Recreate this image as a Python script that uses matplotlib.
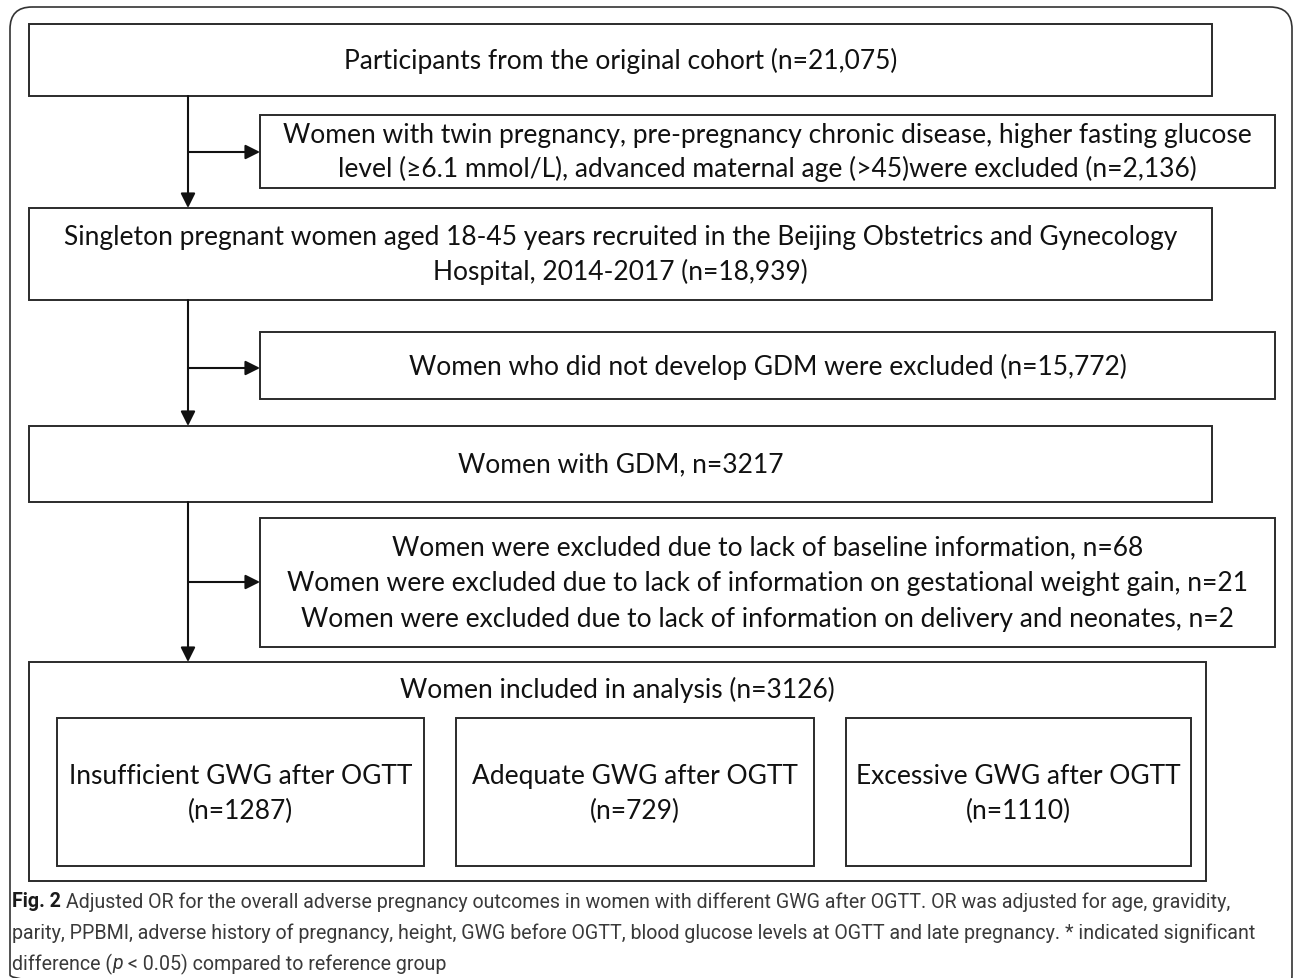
import matplotlib
matplotlib.use("Agg")
import matplotlib.pyplot as plt
from matplotlib.patches import Rectangle, FancyBboxPatch

#%% flowchart content

n_cohort = "21,075"
n_excl_1 = "2,136"
n_singleton = "18,939"
n_no_gdm = "15,772"
n_gdm = 3217
n_missing = [68, 21, 2]
n_included = 3126
group_names = ["Insufficient", "Adequate", "Excessive"]
group_n = [1287, 729, 1110]

main_texts = [
    "Participants from the original cohort (n=%s)" % n_cohort,
    "Singleton pregnant women aged 18-45 years recruited in the Beijing Obstetrics and Gynecology\n"
    "Hospital, 2014-2017 (n=%s)" % n_singleton,
    "Women with GDM, n=%d" % n_gdm,
]
side_texts = [
    "Women with twin pregnancy, pre-pregnancy chronic disease, higher fasting glucose\n"
    "level (\u22656.1 mmol/L), advanced maternal age (>45)were excluded (n=%s)" % n_excl_1,
    "Women who did not develop GDM were excluded (n=%s)" % n_no_gdm,
    "Women were excluded due to lack of baseline information, n=%d\n"
    "Women were excluded due to lack of information on gestational weight gain, n=%d\n"
    "Women were excluded due to lack of information on delivery and neonates, n=%d" % tuple(n_missing),
]
final_text = "Women included in analysis (n=%d)" % n_included

caption_bold = "Fig. 2"
caption_1 = (" Adjusted OR for the overall adverse pregnancy outcomes in women with different GWG after OGTT. "
             "OR was adjusted for age, gravidity,")
caption_2 = ("parity, PPBMI, adverse history of pregnancy, height, GWG before OGTT, blood glucose levels at OGTT "
             "and late pregnancy. * indicated significant")
caption_3 = ["difference (", "p", " < 0.05) compared to reference group"]

#%% layout (pixel coords, y down)

W, H = 1293, 979
fig = plt.figure(figsize=(W / 100, H / 100), dpi=100)
ax = fig.add_axes([0, 0, 1, 1])
ax.set_xlim(0, W)
ax.set_ylim(H, 0)
ax.axis("off")

font = ["Lato", "DejaVu Sans"]
fs = 19
ec = "#2b2b2b"
lw = 1.4

def box(x0, y0, x1, y1, text=None, ty=None, ls=1.42):
    ax.add_patch(Rectangle((x0, y0), x1 - x0, y1 - y0, fill=False, ec=ec, lw=lw))
    if text is not None:
        if ty is None:
            ty = (y0 + y1) / 2
        ax.text((x0 + x1) / 2, ty, text, ha="center", va="center", fontsize=fs,
                family=font, color="#111111", linespacing=ls)

# outer rounded frame (right and bottom run off the picture)
ax.add_patch(FancyBboxPatch((10, 8), 1282, 990, boxstyle="round,pad=0,rounding_size=22",
                            fill=False, ec="#333333", lw=1.2))

main_y = [(25, 97), (209, 301), (427, 503)]
side_y = [(116, 189), (333, 400), (519, 648)]
for (y0, y1), t in zip(main_y, main_texts):
    box(29, y0, 1212, y1, t)
for (y0, y1), t in zip(side_y, side_texts):
    box(260, y0, 1275, y1, t, ls=1.55 if t.count("\n") == 2 else 1.42)

# final box with three groups
box(29, 663, 1206, 882)
ax.text(617, 690, final_text, ha="center", va="center", fontsize=fs, family=font, color="#111111")
group_x = [(57, 424), (456, 814), (846, 1191)]
for (x0, x1), g, n in zip(group_x, group_names, group_n):
    box(x0, 719, x1, 867, "%s GWG after OGTT\n(n=%d)" % (g, n), ty=794, ls=1.5)

# connectors
vx = 188
seg = [(97, 209), (301, 427), (503, 663)]
arrow_y = [153, 369, 583]
ap = dict(arrowstyle="-|>", color="#111111", lw=1.5, mutation_scale=22, shrinkA=0, shrinkB=0)
for (ya, yb), yr in zip(seg, arrow_y):
    ax.annotate("", xy=(vx, yb), xytext=(vx, ya), arrowprops=ap)
    ax.annotate("", xy=(260, yr), xytext=(vx, yr), arrowprops=ap)

#%% caption, size fitted so the first two lines end about where the reference's do
cap_font = ["Roboto", "DejaVu Sans"]
cap_col = "#3a3a3a"
cfs = 15
p1 = ax.text(12, 902, caption_bold + caption_1, fontsize=cfs, family=cap_font)
p2 = ax.text(12, 933, caption_2, fontsize=cfs, family=cap_font)
fig.canvas.draw()
w_mean = (p1.get_window_extent().width + p2.get_window_extent().width) / 2
cfs = cfs * 1232 / w_mean
p1.remove()
p2.remove()

def run(x, y, s, **kw):
    t = ax.text(x, y, s, ha="left", va="center", fontsize=cfs, family=cap_font, **kw)
    fig.canvas.draw()
    return x + t.get_window_extent().width

x = run(12, 902, caption_bold, fontweight="bold", color="#1a1a1a")
run(x, 902, caption_1, color=cap_col)
run(12, 933, caption_2, color=cap_col)
x = run(12, 964, caption_3[0], color=cap_col)
x = run(x, 964, caption_3[1], style="italic", color=cap_col)
run(x, 964, caption_3[2], color=cap_col)

fig.savefig("out.png", dpi=100)
